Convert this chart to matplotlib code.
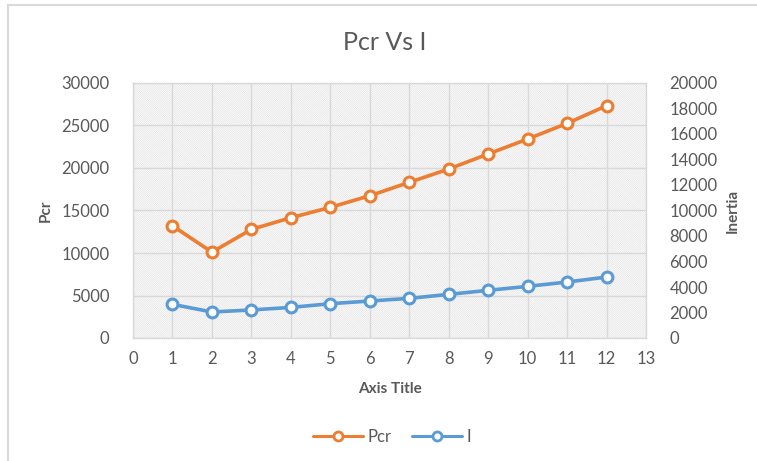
import matplotlib
matplotlib.use("Agg")
import matplotlib.pyplot as plt
from matplotlib.patches import Rectangle
from matplotlib.lines import Line2D

plt.rcParams['font.family'] = ['Lato', 'DejaVu Sans']
plt.rcParams['hatch.linewidth'] = 0.5

# Series data
x_vals = [1, 2, 3, 4, 5, 6, 7, 8, 9, 10, 11, 12]
pcr = [13200, 10100, 12780, 14150, 15370, 16740, 18310, 19880, 21650, 23410, 25250, 27330]
inertia = [2640, 2040, 2200, 2400, 2690, 2900, 3110, 3420, 3740, 4050, 4390, 4780]

x_ticks = list(range(0, 14))
pcr_ticks = list(range(0, 30001, 5000))
inertia_ticks = list(range(0, 20001, 2000))

TEXT = '#595959'
GRID = '#d9d9d9'
ORANGE = '#ED7D31'
BLUE = '#5B9BD5'

fig = plt.figure(figsize=(7.57, 4.61), dpi=100)

# chart frame (left and top edges)
fig.add_artist(Line2D([8/757, 8/757], [0, 1 - 5/461], transform=fig.transFigure,
                      color=GRID, lw=1.5))
fig.add_artist(Line2D([8/757, 1], [1 - 5/461, 1 - 5/461], transform=fig.transFigure,
                      color=GRID, lw=1.5))

ax = fig.add_axes([133/757, 1 - 338/461, (646 - 133)/757, (338 - 83)/461])
ax.set_facecolor('white')
ax.add_patch(Rectangle((0, 0), 1, 1, transform=ax.transAxes, facecolor='white',
                       edgecolor='#e2e2e2', hatch='\\' * 16, lw=0, zorder=0))

ax.set_xlim(0, 13)
ax.set_ylim(0, 30000)
ax.set_xticks(x_ticks)
ax.set_yticks(pcr_ticks)
ax.grid(True, color=GRID, lw=1.0, zorder=1)
ax.set_axisbelow(True)
for s in ax.spines.values():
    s.set_color(GRID)
    s.set_linewidth(1.0)
ax.tick_params(length=0, labelsize=12, labelcolor=TEXT)
ax.tick_params(axis='x', pad=9)
ax.tick_params(axis='y', pad=17)

ax2 = ax.twinx()
ax2.set_ylim(0, 20000)
ax2.set_yticks(inertia_ticks)
for s in ax2.spines.values():
    s.set_visible(False)
ax2.tick_params(length=0, labelsize=12, labelcolor=TEXT, pad=17)

mk = dict(marker='o', markersize=7.8, markerfacecolor='white', markeredgewidth=2.2,
          lw=2.6, solid_capstyle='round')
ax.plot(x_vals, pcr, color=ORANGE, zorder=5, **mk)
ax2.plot(x_vals, inertia, color=BLUE, zorder=5, **mk)

ax.set_ylabel('Pcr', fontsize=11, fontweight='bold', color=TEXT, labelpad=6)
ax2.set_ylabel('Inertia', fontsize=11, fontweight='bold', color=TEXT, labelpad=6)
ax.set_xlabel('Axis Title', fontsize=11, fontweight='bold', color=TEXT, labelpad=11)

fig.text(385/757, 1 - 42/461, 'Pcr Vs I', fontsize=18, color=TEXT,
         ha='center', va='center')

leg_mk = dict(mk, markersize=6.5, markeredgewidth=2.0, lw=2.2)
handles = [Line2D([], [], color=ORANGE, **leg_mk), Line2D([], [], color=BLUE, **leg_mk)]
fig.legend(handles, ['Pcr', 'I'], loc='center', bbox_to_anchor=(392/757, 1 - 437/461),
           ncol=2, frameon=False, fontsize=12, labelcolor=TEXT, handlelength=3,
           columnspacing=1.2, handletextpad=0.3)

fig.savefig('out.png', dpi=100)
